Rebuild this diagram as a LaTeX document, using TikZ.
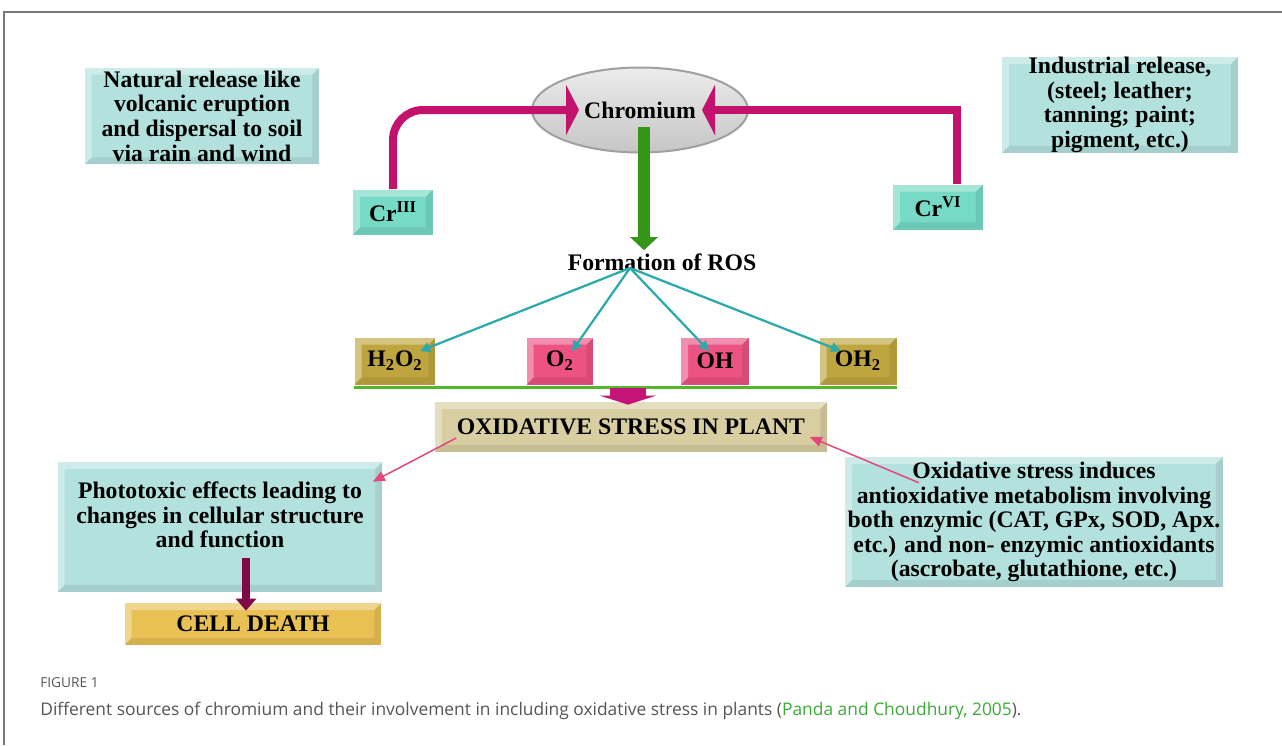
\documentclass[tikz,border=0pt]{standalone}
\usepackage{fontspec}
\setmainfont{Liberation Serif}
\newfontfamily\capfont{Open Sans}
\usepackage{tikz}
\usetikzlibrary{calc, shapes, positioning, arrows.meta}

\definecolor{tealsoft}{RGB}{178,225,222}
\definecolor{tealcr}{RGB}{118,218,198}
\definecolor{olivegold}{RGB}{190,165,62}
\definecolor{rospink}{RGB}{236,82,130}
\definecolor{stresskhaki}{RGB}{216,206,162}
\definecolor{deathgold}{RGB}{233,192,84}
\definecolor{crpink}{RGB}{194,18,110}
\definecolor{chromgreen}{RGB}{52,150,24}
\definecolor{roscyan}{RGB}{42,170,170}
\definecolor{basegreen}{RGB}{84,182,44}
\definecolor{blockpink}{RGB}{196,20,120}
\definecolor{deathmaroon}{RGB}{128,10,72}
\definecolor{linkpink}{RGB}{228,72,122}
\definecolor{capgray}{RGB}{85,85,85}
\definecolor{citegreen}{RGB}{60,170,55}
\definecolor{framegray}{RGB}{120,120,120}

\newcommand{\figboxfont}{\fontsize{13.5}{14}\selectfont\bfseries}

\begin{document}
\begin{tikzpicture}[x=0.02cm, y=-0.02cm]
\tikzstyle{bevel}=[path picture={
	\path (path picture bounding box.south west) coordinate (bvSW)
		(path picture bounding box.north east) coordinate (bvNE);
	\fill[white, opacity=0.35] (bvSW) |- (bvNE) -- ++(-4pt,-4pt) -| ($(bvSW)+(4pt,4pt)$) -- cycle;
	\fill[black, opacity=0.08] (bvSW) -| (bvNE) -- ++(-4pt,-4pt) |- ($(bvSW)+(4pt,4pt)$) -- cycle;
}]
\tikzstyle{src_box}=[rectangle, fill=tealsoft, bevel, align=center, font=\figboxfont, inner sep=0pt]
\tikzstyle{cr_box}=[rectangle, fill=tealcr, bevel, font=\figboxfont, minimum height=0.9cm]
\tikzstyle{ros_gold}=[rectangle, fill=olivegold, bevel, font=\figboxfont, minimum height=0.94cm]
\tikzstyle{ros_pink}=[rectangle, fill=rospink, bevel, font=\figboxfont, minimum height=0.94cm]
\tikzstyle{cr_line}=[draw=crpink, line width=0.16cm, -{Triangle[width=1cm, length=0.26cm]}]
\tikzstyle{ros_line}=[draw=roscyan, line width=0.045cm, -{Triangle[width=0.2cm, length=0.2cm]}]
\tikzstyle{link_line}=[draw=linkpink, line width=0.03cm, -{Triangle[width=0.2cm, length=0.24cm]}]

\useasboundingbox (0,0) rectangle (1282,745);
\draw[framegray, line width=0.03cm] (1282,12) -- (4,12) -- (4,745);

% sources
\node[src_box, minimum width=4.7cm, minimum height=1.94cm] (natural) at (202,116)
	{Natural release like\\volcanic eruption\\and dispersal to soil\\via rain and wind};
\node[src_box, minimum width=4.72cm, minimum height=1.92cm] (industrial) at (1120,105)
	{Industrial release,\\(steel; leather;\\tanning; paint;\\pigment, etc.)};

\node[ellipse, draw=gray!75, line width=0.04cm, top color=gray!15, bottom color=gray!45,
	minimum width=4.32cm, minimum height=1.7cm, font=\figboxfont] (chromium) at (640,110) {Chromium};

\node[cr_box, minimum width=1.6cm] (cr3) at (393,212) {Cr\textsuperscript{III}};
\node[cr_box, minimum width=1.8cm] (cr6) at (938,207) {Cr\textsuperscript{VI}};

\coordinate (cr3in) at (579,110);
\coordinate (cr6in) at (702,110);
\draw[cr_line, rounded corners=0.6cm] (cr3.north) |- (cr3in);
\draw[cr_line] ($(cr6.north)+(19,0)$) |- (cr6in);

% ROS
\node[font=\figboxfont, inner sep=0pt] (ros) at (662,262) {Formation of ROS};
\coordinate (chromout) at (644,127);
\draw[draw=chromgreen, line width=0.24cm, -{Triangle[width=0.54cm, length=0.26cm]},
	shorten >=0.06cm] (chromout) -- (chromout |- ros.north);

\node[ros_gold, minimum width=1.62cm] (h2o2) at (395,361) {H\textsubscript{2}O\textsubscript{2}};
\node[ros_pink, minimum width=1.34cm] (o2) at (560,361) {O\textsubscript{2}};
\node[ros_pink, minimum width=1.36cm] (oh) at (715,361) {OH};
\node[ros_gold, minimum width=1.54cm] (oh2) at (858,361) {OH\textsubscript{2}};

\coordinate (rosfork) at (630,268);
\draw[ros_line] (rosfork) -- ($(h2o2)+(25,-10)$);
\draw[ros_line] (rosfork) -- ($(o2)+(12,-10)$);
\draw[ros_line] (rosfork) -- ($(oh)+(-6,-10)$);
\draw[ros_line] (rosfork) -- ($(oh2)+(-17,-10)$);
\draw[basegreen, line width=0.06cm] ($(h2o2.south west)+(0,3)$) -- ($(oh2.south east)+(0,3)$);

% stress
\node[rectangle, fill=stresskhaki, bevel, font=\figboxfont, minimum width=7.86cm,
	minimum height=1cm] (oxid) at (631,427) {OXIDATIVE STRESS IN PLANT};
\coordinate (rosbase) at (628,388);
\draw[draw=blockpink, line width=0.72cm, -{Triangle[width=1.12cm, length=0.18cm]}]
	(rosbase) -- ($(rosbase |- oxid.north)+(0,3)$);

\node[src_box, minimum width=6.5cm, minimum height=2.6cm] (photo) at (220,527) {};
\node[align=center, font=\figboxfont, inner sep=0pt] (phototxt) at (220,515)
	{Phototoxic effects leading to\\changes in cellular structure\\and function};
\node[src_box, minimum width=7.56cm, minimum height=2.6cm] (anti) at (1034,522)
	{Oxidative stress induces\\antioxidative metabolism involving\\both enzymic (CAT, GPx, SOD, Apx.\\etc.) and non- enzymic antioxidants\\(ascrobate, glutathione, etc.)};

\draw[link_line] ($(oxid.west)+(22,11)$) -- ($(photo.north east)+(-10,20)$);
\draw[link_line] ($(anti.north west)+(74,26)$) -- ($(oxid.east)+(-18,10)$);

\node[rectangle, fill=deathgold, bevel, font=\figboxfont, minimum width=5.14cm,
	minimum height=0.84cm] (death) at (253,624) {CELL DEATH};
\coordinate (photoout) at (246,558);
\draw[draw=deathmaroon, line width=0.16cm, -{Triangle[width=0.4cm, length=0.24cm]},
	shorten >=-0.16cm] (photoout) -- (photoout |- death.north);

% caption
\node[anchor=west, inner sep=0pt, text=capgray, font=\capfont\fontsize{7.8}{9}\selectfont] (figlabel)
	at (40,683) {FIGURE 1};
\node[anchor=west, inner sep=0pt, text=capgray, font=\capfont\fontsize{9.9}{12}\selectfont] (caption)
	at (40,711) {Different sources of chromium and their involvement in including oxidative stress in plants (\textcolor{citegreen}{Panda and Choudhury, 2005}).};

\end{tikzpicture}
\end{document}
